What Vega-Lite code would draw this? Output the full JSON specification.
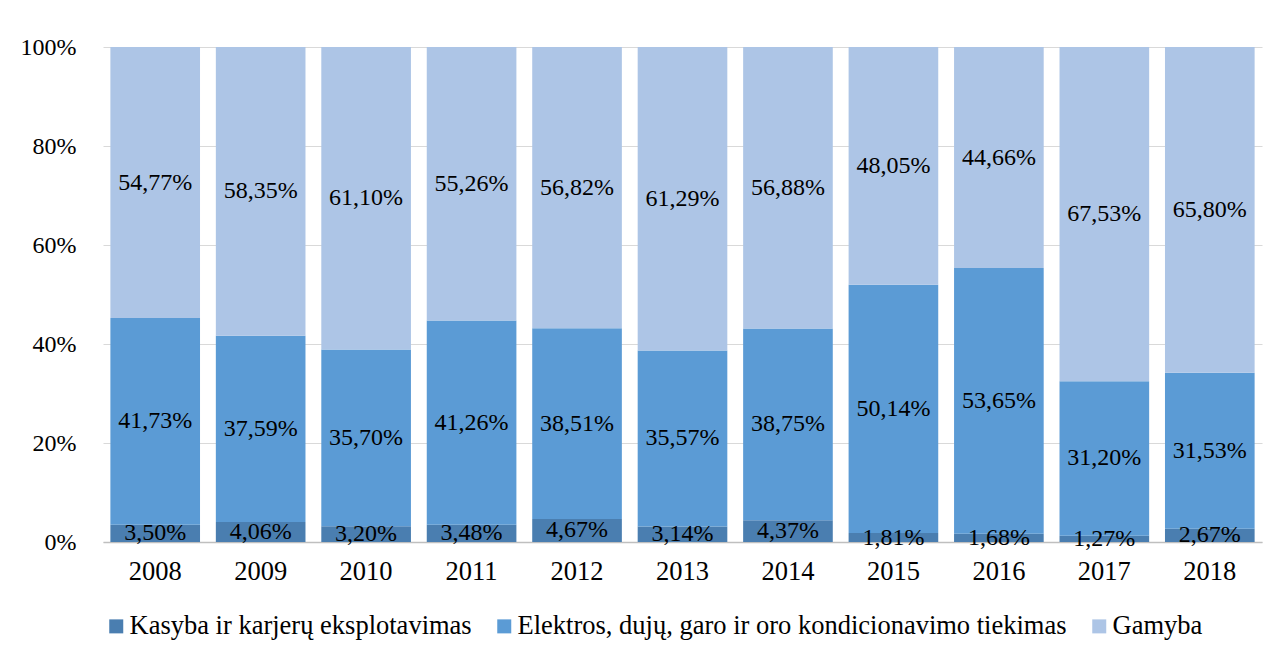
{
  "$schema": "https://vega.github.io/schema/vega-lite/v6.json",
  "width": 1159,
  "height": 495,
  "autosize": {"type": "none"},
  "padding": {"left": 103, "top": 47, "right": 16, "bottom": 108},
  "background": "white",
  "config": {
    "font": "Liberation Serif",
    "view": {"stroke": null},
    "text": {"font": "Liberation Serif"},
    "axis": {"labelFont": "Liberation Serif", "labelColor": "#000000"},
    "legend": {"labelFont": "Liberation Serif", "labelColor": "#000000"}
  },
  "data": {
    "values": [
      {"year": "2008", "series": "Kasyba ir karjerų eksplotavimas", "k": 1, "value": 3.50},
      {"year": "2008", "series": "Elektros, dujų, garo ir oro kondicionavimo tiekimas", "k": 2, "value": 41.73},
      {"year": "2008", "series": "Gamyba", "k": 3, "value": 54.77},
      {"year": "2009", "series": "Kasyba ir karjerų eksplotavimas", "k": 1, "value": 4.06},
      {"year": "2009", "series": "Elektros, dujų, garo ir oro kondicionavimo tiekimas", "k": 2, "value": 37.59},
      {"year": "2009", "series": "Gamyba", "k": 3, "value": 58.35},
      {"year": "2010", "series": "Kasyba ir karjerų eksplotavimas", "k": 1, "value": 3.20},
      {"year": "2010", "series": "Elektros, dujų, garo ir oro kondicionavimo tiekimas", "k": 2, "value": 35.70},
      {"year": "2010", "series": "Gamyba", "k": 3, "value": 61.10},
      {"year": "2011", "series": "Kasyba ir karjerų eksplotavimas", "k": 1, "value": 3.48},
      {"year": "2011", "series": "Elektros, dujų, garo ir oro kondicionavimo tiekimas", "k": 2, "value": 41.26},
      {"year": "2011", "series": "Gamyba", "k": 3, "value": 55.26},
      {"year": "2012", "series": "Kasyba ir karjerų eksplotavimas", "k": 1, "value": 4.67},
      {"year": "2012", "series": "Elektros, dujų, garo ir oro kondicionavimo tiekimas", "k": 2, "value": 38.51},
      {"year": "2012", "series": "Gamyba", "k": 3, "value": 56.82},
      {"year": "2013", "series": "Kasyba ir karjerų eksplotavimas", "k": 1, "value": 3.14},
      {"year": "2013", "series": "Elektros, dujų, garo ir oro kondicionavimo tiekimas", "k": 2, "value": 35.57},
      {"year": "2013", "series": "Gamyba", "k": 3, "value": 61.29},
      {"year": "2014", "series": "Kasyba ir karjerų eksplotavimas", "k": 1, "value": 4.37},
      {"year": "2014", "series": "Elektros, dujų, garo ir oro kondicionavimo tiekimas", "k": 2, "value": 38.75},
      {"year": "2014", "series": "Gamyba", "k": 3, "value": 56.88},
      {"year": "2015", "series": "Kasyba ir karjerų eksplotavimas", "k": 1, "value": 1.81},
      {"year": "2015", "series": "Elektros, dujų, garo ir oro kondicionavimo tiekimas", "k": 2, "value": 50.14},
      {"year": "2015", "series": "Gamyba", "k": 3, "value": 48.05},
      {"year": "2016", "series": "Kasyba ir karjerų eksplotavimas", "k": 1, "value": 1.68},
      {"year": "2016", "series": "Elektros, dujų, garo ir oro kondicionavimo tiekimas", "k": 2, "value": 53.65},
      {"year": "2016", "series": "Gamyba", "k": 3, "value": 44.66},
      {"year": "2017", "series": "Kasyba ir karjerų eksplotavimas", "k": 1, "value": 1.27},
      {"year": "2017", "series": "Elektros, dujų, garo ir oro kondicionavimo tiekimas", "k": 2, "value": 31.20},
      {"year": "2017", "series": "Gamyba", "k": 3, "value": 67.53},
      {"year": "2018", "series": "Kasyba ir karjerų eksplotavimas", "k": 1, "value": 2.67},
      {"year": "2018", "series": "Elektros, dujų, garo ir oro kondicionavimo tiekimas", "k": 2, "value": 31.53},
      {"year": "2018", "series": "Gamyba", "k": 3, "value": 65.80}
    ]
  },
  "transform": [
    {"stack": "value", "groupby": ["year"], "sort": [{"field": "k", "order": "ascending"}], "as": ["y0", "y1"]},
    {"calculate": "(datum.y0 + datum.y1) / 2", "as": "ymid"},
    {"calculate": "replace(format(datum.value, '.2f'), '.', ',') + '%'", "as": "label"}
  ],
  "encoding": {
    "x": {
      "field": "year", "type": "nominal", "title": null,
      "scale": {"paddingInner": 0.15, "paddingOuter": 0.07},
      "axis": {"labelAngle": 0, "labelFont": "Liberation Serif", "labelFontSize": 26.5, "labelPadding": 16, "ticks": false, "domainColor": "#BFBFBF", "domainWidth": 1.3, "grid": false}
    }
  },
  "layer": [
    {
      "mark": {"type": "bar"},
      "encoding": {
        "y": {
          "field": "y0", "type": "quantitative", "title": null,
          "scale": {"domain": [0, 100], "nice": false},
          "axis": {"values": [0, 20, 40, 60, 80, 100], "labelExpr": "datum.value + '%'", "labelFont": "Liberation Serif", "labelFontSize": 24, "labelPadding": 27, "ticks": false, "domain": false, "gridColor": "#D9D9D9", "gridWidth": 1}
        },
        "y2": {"field": "y1"},
        "color": {
          "field": "series", "type": "nominal", "title": null,
          "scale": {
            "domain": ["Kasyba ir karjerų eksplotavimas", "Elektros, dujų, garo ir oro kondicionavimo tiekimas", "Gamyba"],
            "range": ["#4A7EB0", "#5B9BD5", "#ADC5E6"]
          },
          "legend": {"orient": "bottom", "direction": "horizontal", "symbolType": "square", "symbolSize": 196, "symbolStrokeWidth": 0, "labelFont": "Liberation Serif", "labelFontSize": 26.5, "columnPadding": 19, "labelOffset": 0, "offset": 28, "padding": 0, "labelLimit": 800}
        }
      }
    },
    {
      "mark": {"type": "text", "font": "Liberation Serif", "fontSize": 24, "color": "#000000", "baseline": "middle", "align": "center"},
      "encoding": {
        "y": {"field": "ymid", "type": "quantitative"},
        "text": {"field": "label", "type": "nominal"}
      }
    }
  ]
}
